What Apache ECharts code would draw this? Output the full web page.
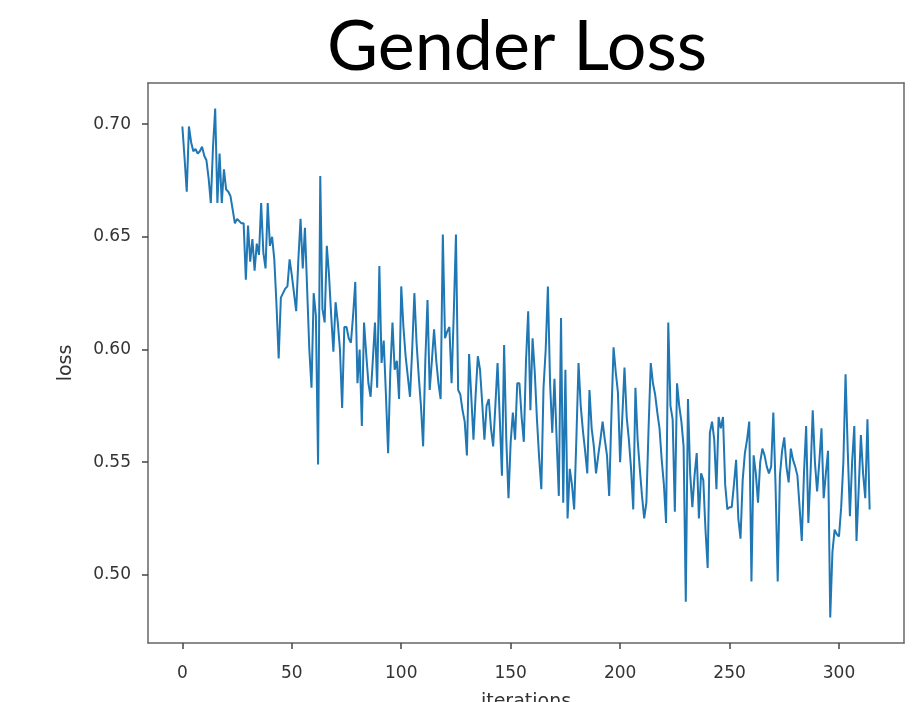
<!DOCTYPE html>
<html>
<head>
<meta charset="utf-8">
<script src="https://cdn.jsdelivr.net/npm/echarts@6/dist/echarts.min.js"></script>
<style>
  html, body { margin: 0; padding: 0; background: #fff; }
  #loss_chart { width: 913px; height: 702px; }
</style>
</head>
<body>
<div id="loss_chart"></div>
<script>
// loss per iteration (0..314)
var lossVals = [
    0.699, 0.685, 0.670, 0.699, 0.692, 0.688, 0.689, 0.687, 0.688, 0.690,
    0.686, 0.684, 0.676, 0.665, 0.690, 0.707, 0.665, 0.687, 0.665, 0.680,
    0.671, 0.670, 0.668, 0.662, 0.656, 0.658, 0.657, 0.656, 0.656, 0.631,
    0.655, 0.639, 0.649, 0.635, 0.647, 0.642, 0.665, 0.643, 0.636, 0.665,
    0.646, 0.650, 0.640, 0.620, 0.596, 0.623, 0.625, 0.627, 0.628, 0.640,
    0.633, 0.625, 0.617, 0.640, 0.658, 0.636, 0.654, 0.627, 0.600, 0.583,
    0.625, 0.615, 0.549, 0.677, 0.618, 0.612, 0.646, 0.633, 0.615, 0.599,
    0.621, 0.612, 0.600, 0.574, 0.610, 0.610, 0.605, 0.603, 0.615, 0.630,
    0.585, 0.600, 0.566, 0.612, 0.598, 0.585, 0.579, 0.595, 0.612, 0.583,
    0.637, 0.594, 0.604, 0.580, 0.554, 0.590, 0.612, 0.591, 0.595, 0.578,
    0.628, 0.610, 0.597, 0.588, 0.579, 0.600, 0.625, 0.603, 0.588, 0.575,
    0.557, 0.595, 0.622, 0.582, 0.595, 0.609, 0.595, 0.585, 0.578, 0.651,
    0.605, 0.608, 0.610, 0.585, 0.616, 0.651, 0.582, 0.580, 0.573, 0.568,
    0.553, 0.598, 0.579, 0.560, 0.580, 0.597, 0.591, 0.576, 0.560, 0.575,
    0.578, 0.565, 0.557, 0.575, 0.594, 0.570, 0.544, 0.602, 0.560, 0.534,
    0.559, 0.572, 0.560, 0.585, 0.585, 0.570, 0.559, 0.595, 0.617, 0.573,
    0.605, 0.590, 0.569, 0.552, 0.538, 0.583, 0.600, 0.628, 0.585, 0.563,
    0.587, 0.560, 0.535, 0.614, 0.532, 0.591, 0.525, 0.547, 0.540, 0.529,
    0.560, 0.594, 0.575, 0.564, 0.555, 0.545, 0.582, 0.565, 0.557, 0.545,
    0.553, 0.560, 0.568, 0.560, 0.553, 0.535, 0.570, 0.601, 0.590, 0.581,
    0.550, 0.570, 0.592, 0.570, 0.560, 0.547, 0.529, 0.583, 0.560, 0.547,
    0.535, 0.525, 0.532, 0.565, 0.594, 0.585, 0.580, 0.572, 0.565, 0.551,
    0.540, 0.523, 0.612, 0.575, 0.569, 0.528, 0.585, 0.575, 0.568, 0.557,
    0.488, 0.578, 0.545, 0.530, 0.544, 0.554, 0.525, 0.545, 0.542, 0.520,
    0.503, 0.563, 0.568, 0.560, 0.538, 0.570, 0.565, 0.570, 0.540, 0.529,
    0.530, 0.530, 0.540, 0.551, 0.525, 0.516, 0.542, 0.554, 0.560, 0.568,
    0.497, 0.553, 0.545, 0.532, 0.550, 0.556, 0.553, 0.548, 0.545, 0.548,
    0.572, 0.540, 0.497, 0.544, 0.555, 0.561, 0.548, 0.541, 0.556, 0.551,
    0.548, 0.544, 0.530, 0.515, 0.545, 0.566, 0.523, 0.545, 0.573, 0.550,
    0.537, 0.550, 0.565, 0.534, 0.545, 0.555, 0.481, 0.510, 0.520, 0.518,
    0.517, 0.530, 0.550, 0.589, 0.555, 0.526, 0.550, 0.566, 0.515, 0.538,
    0.562, 0.545, 0.534, 0.569, 0.529
];
var xTicks = [0, 50, 100, 150, 200, 250, 300];
var yTicks = [0.50, 0.55, 0.60, 0.65, 0.70];

var loss_chart = document.getElementById('loss_chart');
var loss_myChart = echarts.init(loss_chart);

var seriesData = lossVals.map(function (v, i) { return [i, v]; });

var xMin = -15.7, xMax = 329.7;
var yMin = 0.4697, yMax = 0.7183;

var tickFont = {
    color: '#333',
    fontSize: 17,
    fontFamily: 'DejaVu Sans'
};
var nameFont = {
    color: '#333',
    fontSize: 19,
    fontFamily: 'DejaVu Sans'
};
var spine = { show: true, onZero: false, lineStyle: { color: '#666', width: 1.5 } };
var tickStyle = { color: '#444', width: 1.5 };

var option = {
    animation: false,
    title: {
        text: 'Gender Loss',
        left: 512,
        top: 7,
        textAlign: 'center',
        textStyle: {
            color: '#000',
            fontSize: 70,
            fontWeight: 'normal',
            fontFamily: 'Lato'
        }
    },
    grid: {
        left: 148,
        right: 9,
        top: 83,
        bottom: 59,
        outerBoundsMode: 'none',
        containLabel: false
    },
    xAxis: [
        {
            type: 'value',
            min: xMin,
            max: xMax,
            name: 'iterations',
            nameLocation: 'middle',
            nameGap: 50,
            nameTextStyle: nameFont,
            axisLine: spine,
            axisTick: { show: true, length: 6, customValues: xTicks, lineStyle: tickStyle },
            axisLabel: Object.assign({ margin: 22, customValues: xTicks }, tickFont),
            splitLine: { show: false }
        },
        {
            // top spine only
            type: 'value',
            position: 'top',
            min: xMin,
            max: xMax,
            axisLine: spine,
            axisTick: { show: false },
            axisLabel: { show: false },
            splitLine: { show: false }
        }
    ],
    yAxis: [
        {
            type: 'value',
            min: yMin,
            max: yMax,
            name: 'loss',
            nameLocation: 'middle',
            nameGap: 72,
            nameTextStyle: nameFont,
            axisLine: spine,
            axisTick: { show: true, length: 6, customValues: yTicks, lineStyle: tickStyle },
            axisLabel: Object.assign({
                margin: 17,
                customValues: yTicks,
                formatter: function (v) { return v.toFixed(2); }
            }, tickFont),
            splitLine: { show: false }
        },
        {
            // right spine only
            type: 'value',
            position: 'right',
            min: yMin,
            max: yMax,
            axisLine: spine,
            axisTick: { show: false },
            axisLabel: { show: false },
            splitLine: { show: false }
        }
    ],
    series: [
        {
            name: 'loss',
            type: 'line',
            data: seriesData,
            showSymbol: false,
            lineStyle: { color: '#1f77b4', width: 2 },
            itemStyle: { color: '#1f77b4' }
        }
    ]
};

option && loss_myChart.setOption(option);
</script>
</body>
</html>
